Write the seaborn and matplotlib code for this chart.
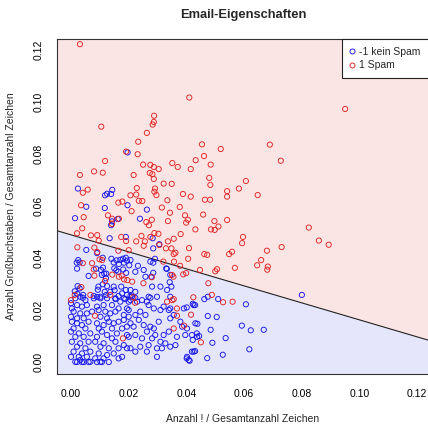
import numpy as np
import pandas as pd
import matplotlib
matplotlib.use("Agg")
import matplotlib.pyplot as plt
import seaborn as sns
from matplotlib.lines import Line2D
from matplotlib.patches import Rectangle

# ---------------- data ----------------
title = "Email-Eigenschaften"
xlabel = "Anzahl ! / Gesamtanzahl Zeichen"
ylabel = "Anzahl Großbuchstaben / Gesamtanzahl Zeichen"
class_labels = ["-1 kein Spam", "1 Spam"]
xticks = [0.00, 0.02, 0.04, 0.06, 0.08, 0.10, 0.12]
yticks = [0.00, 0.02, 0.04, 0.06, 0.08, 0.10, 0.12]

# decision boundary  y = intercept + slope * x
boundary_intercept = 0.0489
boundary_slope = -0.327

spam_x = [0.0031, 0.0410, 0.0288, 0.0287, 0.0283, 0.0105, 0.0263, 0.0233, 0.0454, 0.0519,
          0.0191, 0.0231, 0.0461, 0.0118, 0.0432, 0.0250, 0.0275, 0.0287, 0.0351, 0.0370,
          0.0484, 0.0304, 0.0415, 0.0080, 0.0110, 0.0031, 0.0217, 0.0273, 0.0282, 0.0287,
          0.0479, 0.0606, 0.0321, 0.0349, 0.0483, 0.0950, 0.0689, 0.0727, 0.0582, 0.0541,
          0.0541, 0.0647, 0.0291, 0.0289, 0.0296, 0.0388, 0.0415, 0.0464, 0.0482, 0.0334,
          0.0377, 0.0315, 0.0343, 0.0395, 0.0405, 0.0399, 0.0458, 0.0497, 0.0541, 0.0336,
          0.0280, 0.0511, 0.0431, 0.0485, 0.0380, 0.0303, 0.0289, 0.0356, 0.0336, 0.0306,
          0.0329, 0.0348, 0.0409, 0.0406, 0.0356, 0.0362, 0.0462, 0.0472, 0.0548, 0.0558,
          0.0596, 0.0593, 0.0679, 0.0730, 0.0659, 0.0645, 0.0682, 0.0680, 0.0568, 0.0506,
          0.0500, 0.0447, 0.0378, 0.0357, 0.0320, 0.0350, 0.0355, 0.0389, 0.0399, 0.0824,
          0.0859, 0.0893, 0.0228, 0.0206, 0.0226, 0.0235, 0.0247, 0.0164, 0.0178, 0.0210,
          0.0058, 0.0041, 0.0035, 0.0044, 0.0039, 0.0128, 0.0142, 0.0166, 0.0270, 0.0261,
          0.0142, 0.0498, 0.0021, 0.0069, 0.0091, 0.0096, 0.0174, 0.0191, 0.0226, 0.0256,
          0.0275, 0.0022, 0.0081, 0.0091, 0.0099, 0.0108, 0.0164, 0.0073, 0.0081, 0.0118,
          0.0166, 0.0184, 0.0195, 0.0212, 0.0216, 0.0222, 0.0280, 0.0251, 0.0351, 0.0356,
          0.0416, 0.0450, 0.0424, 0.0392, 0.0083, 0.0000, 0.0180, 0.0476, 0.0488, 0.0527,
          0.0560, 0.0200, 0.0041, 0.0079, 0.0143, 0.0176, 0.0036, 0.0067, 0.0013, 0.0136,
          0.0244, 0.0252, 0.0333, 0.0367, 0.0367, 0.0356]
spam_y = [0.1222, 0.1017, 0.0947, 0.0923, 0.0913, 0.0905, 0.0881, 0.0847, 0.0837, 0.0819,
          0.0809, 0.0799, 0.0792, 0.0773, 0.0776, 0.0759, 0.0758, 0.0750, 0.0765, 0.0750,
          0.0759, 0.0742, 0.0742, 0.0733, 0.0728, 0.0719, 0.0719, 0.0727, 0.0722, 0.0704,
          0.0708, 0.0696, 0.0686, 0.0685, 0.0681, 0.0973, 0.0836, 0.0774, 0.0667, 0.0657,
          0.0636, 0.0642, 0.0667, 0.0655, 0.0642, 0.0646, 0.0636, 0.0624, 0.0624, 0.0622,
          0.0596, 0.0594, 0.0574, 0.0564, 0.0547, 0.0536, 0.0567, 0.0542, 0.0546, 0.0542,
          0.0547, 0.0521, 0.0510, 0.0510, 0.0492, 0.0493, 0.0496, 0.0474, 0.0464, 0.0450,
          0.0437, 0.0437, 0.0438, 0.0397, 0.0415, 0.0420, 0.0415, 0.0412, 0.0415, 0.0424,
          0.0481, 0.0457, 0.0428, 0.0442, 0.0392, 0.0372, 0.0367, 0.0355, 0.0362, 0.0357,
          0.0349, 0.0354, 0.0370, 0.0386, 0.0386, 0.0335, 0.0328, 0.0337, 0.0342, 0.0517,
          0.0467, 0.0451, 0.0669, 0.0641, 0.0644, 0.0620, 0.0619, 0.0613, 0.0617, 0.0580,
          0.0663, 0.0651, 0.0603, 0.0557, 0.0514, 0.0564, 0.0551, 0.0551, 0.0526, 0.0538,
          0.0531, 0.0508, 0.0495, 0.0487, 0.0488, 0.0467, 0.0481, 0.0465, 0.0464, 0.0464,
          0.0481, 0.0441, 0.0440, 0.0423, 0.0395, 0.0392, 0.0428, 0.0380, 0.0332, 0.0312,
          0.0328, 0.0318, 0.0315, 0.0309, 0.0249, 0.0228, 0.0326, 0.0303, 0.0238, 0.0242,
          0.0182, 0.0076, 0.0249, 0.0140, 0.0178, 0.0238, 0.0091, 0.0303, 0.0258, 0.0230,
          0.0232, 0.0430, 0.0380, 0.0356, 0.0336, 0.0332, 0.0288, 0.0258, 0.0258, 0.0258,
          0.0485, 0.0447, 0.0232, 0.0206, 0.0178, 0.0129]

ham_x = [0.0196, 0.0283, 0.0285, 0.0291, 0.0285, 0.0285, 0.0332, 0.0024, 0.0118, 0.0125,
         0.0143, 0.0139, 0.0117, 0.0053, 0.0196, 0.0263, 0.0014, 0.0239, 0.0162, 0.0142,
         0.0139, 0.0134, 0.0190, 0.0053,
         0.0462, 0.0474, 0.0510, 0.0606, 0.0800, 0.0474, 0.0505, 0.0438, 0.0592, 0.0623,
         0.0668, 0.0484, 0.0436, 0.0444, 0.0536, 0.0490, 0.0618, 0.0526, 0.0472, 0.0430,
         0.0430, 0.0401, 0.0411, 0.0419, 0.0422, 0.0422, 0.0401,
         0.0090, 0.0025, 0.0020, 0.0030, 0.0021, 0.0087, 0.0061, 0.0110, 0.0104, 0.0111,
         0.0115, 0.0107, 0.0122, 0.0121, 0.0140, 0.0148, 0.0150, 0.0158, 0.0166, 0.0171,
         0.0164, 0.0157, 0.0180, 0.0190, 0.0194, 0.0183, 0.0181, 0.0202, 0.0191, 0.0110,
         0.0125, 0.0095, 0.0093, 0.0148, 0.0151, 0.0136, 0.0174, 0.0190, 0.0206, 0.0023,
         0.0013, 0.0030, 0.0022, 0.0042, 0.0041, 0.0079, 0.0090, 0.0102, 0.0117, 0.0122,
         0.0165, 0.0177, 0.0194, 0.0206, 0.0154, 0.0188,
         0.0306, 0.0275, 0.0206, 0.0232, 0.0223, 0.0252, 0.0258, 0.0278, 0.0330, 0.0344,
         0.0342, 0.0348, 0.0281, 0.0310, 0.0269, 0.0298, 0.0333, 0.0344, 0.0211, 0.0223,
         0.0206, 0.0223, 0.0229, 0.0200, 0.0246, 0.0275, 0.0263, 0.0269, 0.0287, 0.0310,
         0.0321, 0.0240, 0.0223, 0.0258, 0.0235, 0.0206, 0.0217, 0.0252, 0.0275, 0.0287,
         0.0304, 0.0263, 0.0223, 0.0200, 0.0246, 0.0281, 0.0292, 0.0321, 0.0339, 0.0310,
         0.0327, 0.0269, 0.0240, 0.0206, 0.0223, 0.0263, 0.0298, 0.0315, 0.0344, 0.0362,
         0.0367, 0.0385, 0.0396, 0.0379, 0.0344, 0.0356, 0.0339, 0.0391, 0.0402, 0.0419,
         0.0431, 0.0437, 0.0425, 0.0402, 0.0408, 0.0298, 0.0344, 0.0425,
         0.0015, 0.0032, 0.0050, 0.0079, 0.0102, 0.0125, 0.0154, 0.0171, 0.0183, 0.0200,
         0.0021, 0.0038, 0.0055, 0.0090, 0.0113, 0.0142, 0.0165, 0.0194, 0.0003, 0.0000,
         0.0009, 0.0032, 0.0055, 0.0073, 0.0096, 0.0119, 0.0136, 0.0154, 0.0183, 0.0200,
         0.0000, 0.0021, 0.0044, 0.0102, 0.0125,
         0.0003, 0.0021, 0.0038, 0.0061, 0.0090, 0.0113, 0.0131, 0.0148, 0.0165, 0.0183,
         0.0194, 0.0009, 0.0050, 0.0096, 0.0142, 0.0177,
         0.0000, 0.0027, 0.0067, 0.0107, 0.0125, 0.0159, 0.0194, 0.0015, 0.0044, 0.0090,
         0.0142,
         0.0003, 0.0032, 0.0061, 0.0084, 0.0113, 0.0154, 0.0183, 0.0021, 0.0050, 0.0102,
         0.0131, 0.0165, 0.0194,
         0.0009, 0.0038, 0.0067, 0.0096, 0.0125, 0.0148, 0.0177, 0.0000, 0.0027, 0.0055,
         0.0084, 0.0113, 0.0165,
         0.0015, 0.0032, 0.0044, 0.0067, 0.0090, 0.0102, 0.0131, 0.0021, 0.0038, 0.0061,
         0.0107]
ham_y = [0.0806, 0.0476, 0.0437, 0.0397, 0.0382, 0.0343, 0.0358, 0.0667, 0.0641, 0.0647,
         0.0662, 0.0646, 0.0592, 0.0597, 0.0603, 0.0586, 0.0553, 0.0551, 0.0550, 0.0541,
         0.0526, 0.0476, 0.0481, 0.0431,
         0.0242, 0.0251, 0.0242, 0.0222, 0.0258, 0.0177, 0.0173, 0.0147, 0.0140, 0.0122,
         0.0124, 0.0124, 0.0110, 0.0100, 0.0092, 0.0074, 0.0049, 0.0028, 0.0015, 0.0219,
         0.0042, 0.0014, 0.0005, 0.0040, 0.0085, 0.0224, 0.0210,
         0.0419, 0.0392, 0.0382, 0.0383, 0.0359, 0.0359, 0.0331, 0.0401, 0.0354, 0.0363,
         0.0340, 0.0335, 0.0340, 0.0322, 0.0397, 0.0383, 0.0360, 0.0391, 0.0377, 0.0393,
         0.0347, 0.0353, 0.0397, 0.0401, 0.0390, 0.0382, 0.0356, 0.0372, 0.0343, 0.0299,
         0.0292, 0.0290, 0.0278, 0.0290, 0.0276, 0.0270, 0.0290, 0.0277, 0.0277, 0.0292,
         0.0272, 0.0283, 0.0262, 0.0258, 0.0247, 0.0254, 0.0250, 0.0245, 0.0270, 0.0258,
         0.0254, 0.0264, 0.0258, 0.0254, 0.0242, 0.0242,
         0.0453, 0.0386, 0.0392, 0.0370, 0.0347, 0.0354, 0.0328, 0.0328, 0.0360, 0.0335,
         0.0307, 0.0290, 0.0290, 0.0290, 0.0251, 0.0251, 0.0277, 0.0251, 0.0251, 0.0270,
         0.0238, 0.0247, 0.0232, 0.0200, 0.0238, 0.0247, 0.0232, 0.0219, 0.0206, 0.0200,
         0.0213, 0.0194, 0.0181, 0.0181, 0.0162, 0.0149, 0.0136, 0.0142, 0.0136, 0.0129,
         0.0155, 0.0117, 0.0104, 0.0097, 0.0091, 0.0091, 0.0104, 0.0104, 0.0117, 0.0078,
         0.0072, 0.0065, 0.0059, 0.0053, 0.0040, 0.0040, 0.0053, 0.0053, 0.0059, 0.0065,
         0.0097, 0.0136, 0.0104, 0.0155, 0.0168, 0.0181, 0.0200, 0.0206, 0.0129, 0.0104,
         0.0149, 0.0097, 0.0040, 0.0020, 0.0008, 0.0020, 0.0206, 0.0219,
         0.0245, 0.0251, 0.0238, 0.0245, 0.0251, 0.0245, 0.0245, 0.0232, 0.0245, 0.0232,
         0.0219, 0.0213, 0.0219, 0.0213, 0.0219, 0.0219, 0.0206, 0.0206, 0.0206, 0.0226,
         0.0194, 0.0187, 0.0187, 0.0194, 0.0200, 0.0194, 0.0187, 0.0194, 0.0181, 0.0174,
         0.0174, 0.0168, 0.0168, 0.0174, 0.0168,
         0.0155, 0.0149, 0.0142, 0.0155, 0.0149, 0.0142, 0.0155, 0.0149, 0.0155, 0.0162,
         0.0136, 0.0129, 0.0129, 0.0129, 0.0129, 0.0129,
         0.0117, 0.0110, 0.0110, 0.0117, 0.0104, 0.0110, 0.0104, 0.0097, 0.0097, 0.0097,
         0.0091,
         0.0078, 0.0072, 0.0078, 0.0078, 0.0072, 0.0078, 0.0065, 0.0059, 0.0053, 0.0059,
         0.0053, 0.0053, 0.0053,
         0.0040, 0.0033, 0.0040, 0.0033, 0.0027, 0.0033, 0.0020, 0.0020, 0.0020, 0.0020,
         0.0014, 0.0014, 0.0014,
         0.0001, 0.0008, 0.0000, 0.0001, 0.0000, 0.0001, 0.0000, 0.0000, 0.0000, 0.0000,
         0.0000]

# ---------------- styling ----------------
sns.set_theme(style="white")
plt.rcParams['font.family'] = ['Liberation Sans', 'DejaVu Sans']

W, H = 428, 425
BLUE = "#1515e6"
RED = "#e02222"
BG_BLUE = "#e5e5fb"
BG_RED = "#fbe4e4"

fig = plt.figure(figsize=(W / 100, H / 100), dpi=100)
fig.patch.set_facecolor("white")
ax = fig.add_axes([57 / W, 1 - 374 / H, (432 - 57) / W, (374 - 39) / H])

xlim = (-0.00485, 0.1251)
ylim = (-0.0046, 0.1242)
ax.set_xlim(*xlim)
ax.set_ylim(*ylim)

# shaded decision regions
xs = np.array(xlim)
yb = boundary_intercept + boundary_slope * xs
ax.fill_between(xs, ylim[0], yb, color=BG_BLUE, lw=0, zorder=0)
ax.fill_between(xs, yb, ylim[1], color=BG_RED, lw=0, zorder=0)
ax.plot(xs, yb, color="#222222", lw=0.8, zorder=1)

df = pd.concat([
    pd.DataFrame({"x": ham_x, "y": ham_y, "klasse": class_labels[0]}),
    pd.DataFrame({"x": spam_x, "y": spam_y, "klasse": class_labels[1]}),
], ignore_index=True)

for lab, col in zip(class_labels, [BLUE, RED]):
    sub = df[df["klasse"] == lab]
    sns.scatterplot(data=sub, x="x", y="y", color=col, marker="o", s=14,
                    linewidth=0.65, ax=ax, legend=False, zorder=3)
    coll = ax.collections[-1]
    coll.set_facecolor("none")
    coll.set_edgecolor(col)

# axes, ticks
for side in ["left", "bottom", "top", "right"]:
    ax.spines[side].set_color("#333333")
    ax.spines[side].set_linewidth(0.8)
ax.set_xticks(xticks)
ax.set_xticklabels([f"{t:.2f}" for t in xticks])
ax.set_yticks(yticks)
ax.set_yticklabels([f"{t:.2f}" for t in yticks], rotation=90, va="center")
ax.tick_params(axis="both", direction="out", length=4.3, width=0.7, color="#333333",
               labelsize=7.5, labelcolor="black")
ax.tick_params(axis="x", pad=6.3)
ax.tick_params(axis="y", pad=5.0)
ax.set_xlabel("")
ax.set_ylabel("")
ax.grid(False)

fig.text(243 / W, 1 - 15 / H, title, ha="center", va="center", fontsize=9.3, fontweight="bold")
fig.text(243 / W, 1 - 419 / H, xlabel, ha="center", va="center", fontsize=7.5)
fig.text(11 / W, 1 - 206 / H, ylabel, ha="center", va="center", fontsize=7.5, rotation=90)

# legend with frame extending past the right edge
rect = Rectangle((342 / W, 1 - 78 / H), (445 - 342) / W, 39 / H, transform=fig.transFigure,
                 facecolor="white", edgecolor="#222222", lw=0.8, zorder=5, clip_on=False)
ax.add_patch(rect)
handles = [Line2D([], [], ls="none", marker="o", markersize=3.6, markerfacecolor="none",
                  markeredgecolor=c, markeredgewidth=0.65) for c in [BLUE, RED]]
leg = ax.legend(handles, class_labels, loc="upper left", bbox_to_anchor=(342 / W, 1 - 39 / H),
                bbox_transform=fig.transFigure, borderaxespad=0, borderpad=0.75,
                handlelength=0.4, handletextpad=0.5, labelspacing=0.35, fontsize=7.5,
                frameon=False)
leg.set_zorder(6)

fig.savefig("out.png", dpi=100)
